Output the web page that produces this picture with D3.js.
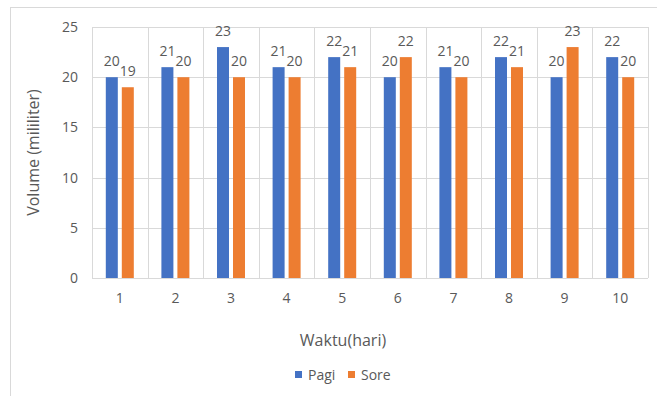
<!DOCTYPE html>
<html><head><meta charset="utf-8">
<script src="https://cdn.jsdelivr.net/npm/d3@7"></script>
<style>body{margin:0;background:#fff}svg{display:block}text{font-family:"Open Sans",sans-serif;fill:#595959}</style>
</head><body>
<script>
const categories = ["1","2","3","4","5","6","7","8","9","10"];
const pagi = [20,21,23,21,22,20,21,22,20,22];
const sore = [19,20,20,20,21,22,20,21,23,20];
const seriesNames = ["Pagi","Sore"];
const colors = ["#4472C4","#ED7D31"];
const yTicks = [0,5,10,15,20,25];

const W=657,H=396;
const svg=d3.select("body").append("svg").attr("width",W).attr("height",H);
svg.append("rect").attr("x",10.5).attr("y",7.5).attr("width",W+20).attr("height",H+20)
  .attr("fill","#fff").attr("stroke","#d9d9d9");

const m={l:92,r:648,t:27,b:278};
const x=d3.scaleBand().domain(categories).range([m.l,m.r]);
const y=d3.scaleLinear().domain([0,25]).range([m.b,m.t]);
const bw=12, gap=4;

const g=svg.append("g");
g.selectAll(".hg").data(yTicks).join("line")
  .attr("x1",m.l).attr("x2",m.r).attr("y1",d=>Math.round(y(d))+0.5).attr("y2",d=>Math.round(y(d))+0.5)
  .attr("stroke","#d9d9d9");
const bounds=categories.map(c=>x(c)).concat([m.r]);
g.selectAll(".vg").data(bounds).join("line")
  .attr("x1",d=>Math.round(d)+0.5).attr("x2",d=>Math.round(d)+0.5).attr("y1",m.t).attr("y2",m.b)
  .attr("stroke","#d9d9d9");

const yAxis=d3.axisLeft(y).tickValues(yTicks).tickSize(0).tickPadding(0);
const ya=svg.append("g").attr("transform",`translate(78,0)`).call(yAxis);
ya.select(".domain").remove();
ya.selectAll("text").attr("font-size",14).style("font-family","'Open Sans',sans-serif").attr("fill","#595959");

const xAxis=d3.axisBottom(x).tickSize(0).tickPadding(0);
const xa=svg.append("g").attr("transform",`translate(0,293)`).call(xAxis);
xa.select(".domain").remove();
xa.selectAll("text").attr("font-size",14).style("font-family","'Open Sans',sans-serif").attr("fill","#595959");

const series=[pagi,sore];
series.forEach((vals,si)=>{
  const off = si===0 ? -gap/2-bw : gap/2;
  svg.selectAll(".b"+si).data(vals).join("rect")
    .attr("x",(d,i)=>x(categories[i])+x.bandwidth()/2+off)
    .attr("y",d=>y(d)).attr("width",bw).attr("height",d=>y(0)-y(d))
    .attr("fill",colors[si]);
  svg.selectAll(".l"+si).data(vals).join("text")
    .attr("x",(d,i)=>x(categories[i])+x.bandwidth()/2+off+bw/2)
    .attr("y",d=>y(d)-11).attr("text-anchor","middle").attr("font-size",14).text(d=>d);
});

svg.append("text").attr("x",343).attr("y",346).attr("text-anchor","middle").attr("font-size",16).text("Waktu(hari)");
svg.append("text").attr("transform",`translate(39,${(m.t+m.b)/2}) rotate(-90)`).attr("text-anchor","middle").attr("font-size",16).text("Volume (mililiter)");

const leg=svg.append("g");
const lx=[295,348];
seriesNames.forEach((n,i)=>{
  leg.append("rect").attr("x",lx[i]).attr("y",371).attr("width",7).attr("height",7).attr("fill",colors[i]);
  leg.append("text").attr("x",lx[i]+13).attr("y",380).attr("font-size",14).text(n);
});
</script>
</body></html>
